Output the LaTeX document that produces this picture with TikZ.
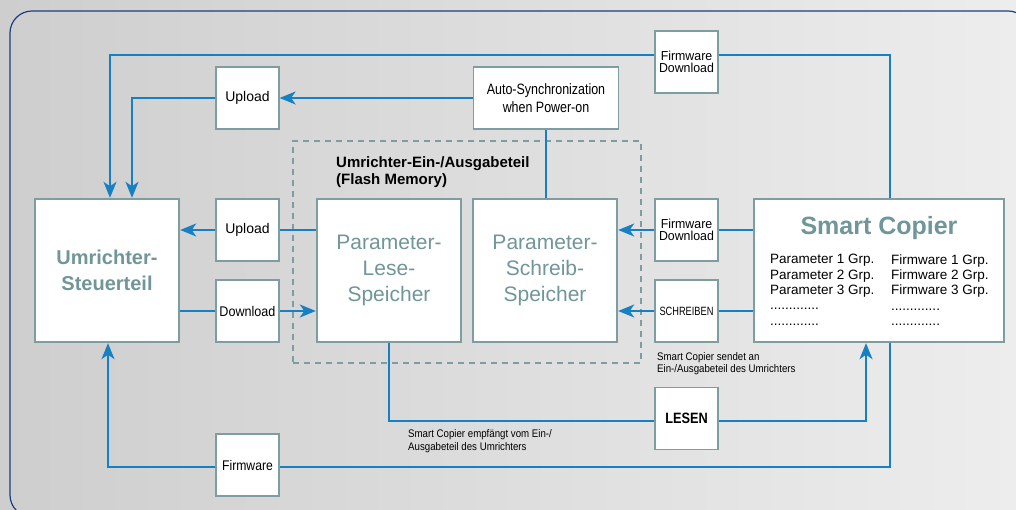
\documentclass[tikz,border=0pt]{standalone}
\usepackage{fontspec}
\setmainfont{Liberation Sans}
\usetikzlibrary{
  calc,
  positioning,
  arrows.meta
}
\definecolor{boxgray}{RGB}{125,157,160}
\definecolor{titlegray}{RGB}{112,150,153}
\definecolor{flowblue}{RGB}{22,128,194}
\definecolor{framenavy}{RGB}{28,62,128}
\definecolor{bgleft}{RGB}{206,206,206}
\definecolor{bgright}{RGB}{237,237,237}
\newcommand\cond[1]{\addfontfeatures{FakeStretch=#1}}

\begin{document}
\begin{tikzpicture}[x=1pt,y=-1pt,
  smallbox/.style={draw=boxgray, fill=white, line width=1.2pt, minimum width=63pt, minimum height=62pt, inner sep=0pt, align=center},
  bigbox/.style={draw=boxgray, fill=white, line width=2.4pt, minimum width=144pt, minimum height=143pt, inner sep=0pt, align=center, text=titlegray},
  flashbox/.style={draw=boxgray, line width=1.8pt, dash pattern=on 6pt off 5pt, inner sep=0pt},
  flow/.style={draw=flowblue, line width=1.8pt},
  note/.style={anchor=north west, inner sep=0pt, align=left, font=\fontsize{11}{12.6}\selectfont\cond{0.88}},
  grp/.style={anchor=north west, inner sep=0pt, align=left, font=\fontsize{13.5}{15.3}\selectfont},
  >={Stealth[length=16pt,width=13pt,inset=4.5pt]}]
\useasboundingbox (0,0) rectangle (1016,510);
\shade[left color=bgleft, right color=bgright] (0,0) rectangle (1016,510);
\draw[framenavy, line width=1.2pt, rounded corners=22pt] (10,11) rectangle (1030,517);

% flash memory part
\node[flashbox, minimum width=348pt, minimum height=222pt] (flash) at (467,252) {};
\node[anchor=north west, inner sep=0pt, align=left, font=\fontsize{15}{17}\selectfont\bfseries] (iolabel) at (336,156.2) {Umrichter-Ein-/Ausgabeteil\\(Flash Memory)};

% main blocks
\node[bigbox, font=\fontsize{20}{26}\selectfont\bfseries] (steuer) at (107,270.5) {Umrichter-\\Steuerteil};
\node[bigbox, font=\fontsize{21}{26}\selectfont] (lese) at (389,270.5) {Parameter-\\Lese-\\Speicher};
\node[bigbox, font=\fontsize{21}{26}\selectfont] (schreib) at (545,270.5) {Parameter-\\Schreib-\\Speicher};
\node[bigbox, minimum width=250pt] (copier) at (879,270.5) {};
\node[anchor=base, inner sep=0pt, text=titlegray, font=\fontsize{25}{30}\selectfont\bfseries] (ctitle) at (879,235) {Smart Copier};
\node[grp] (pgrp) at (770,254.3) {Parameter 1 Grp.\\Parameter 2 Grp.\\Parameter 3 Grp.\\.............\\.............};
\node[grp] (fgrp) at (891,254.3) {Firmware 1 Grp.\\Firmware 2 Grp.\\Firmware 3 Grp.\\.............\\.............};

% transfer boxes
\node[smallbox, font=\fontsize{14}{16}\selectfont] (uptop) at (247.5,98) {Upload};
\node[smallbox, font=\fontsize{14}{16}\selectfont] (upmid) at (247.5,230) {Upload};
\node[smallbox, font=\fontsize{14}{16}\selectfont\cond{0.9}] (down) at (247.5,311) {Download};
\node[smallbox, font=\fontsize{14}{16}\selectfont\cond{0.87}] (firm) at (247.5,465) {Firmware};
\node[smallbox, minimum width=145pt, font=\fontsize{15}{17.7}\selectfont\cond{0.83}] (sync) at (546,98) {Auto-Synchronization\\when Power-on};
\node[smallbox, font=\fontsize{13}{12.5}\selectfont\cond{0.95}] (fwtop) at (686.5,62) {Firmware\\Download};
\node[smallbox, font=\fontsize{13}{12.5}\selectfont\cond{0.95}] (fwmid) at (686.5,230) {Firmware\\Download};
\node[smallbox, font=\fontsize{12}{14}\selectfont\cond{0.77}] (schr) at (686.5,311) {SCHREIBEN};
\node[smallbox, font=\fontsize{15}{17}\selectfont\bfseries\cond{0.85}] (lesen) at (686.5,418.5) {LESEN};

% notes
\node[note] (sendnote) at (657,352) {Smart Copier sendet an\\Ein-/Ausgabeteil des Umrichters};
\node[note] (recvnote) at (408,429.5) {Smart Copier empfängt vom Ein-/\\Ausgabeteil des Umrichters};

% connections
\draw[flow] ([xshift=11pt]copier.north) |- ([yshift=7pt]fwtop.east);
\draw[flow,->] ([yshift=7pt]fwtop.west) -| ([xshift=3pt]steuer.north);
\draw[flow,->] (sync.west) -- (uptop.east);
\draw[flow,->] (uptop.west) -| ([xshift=25pt]steuer.north);
\draw[flow] (sync.south) -- (sync.south |- schreib.north);
\draw[flow] (lese.west |- upmid) -- (upmid.east);
\draw[flow,->] (upmid.west) -- (steuer.east |- upmid);
\draw[flow] (steuer.east |- down) -- (down.west);
\draw[flow,->] (down.east) -- (lese.west |- down);
\draw[flow] (copier.west |- fwmid) -- (fwmid.east);
\draw[flow,->] (fwmid.west) -- (schreib.east |- fwmid);
\draw[flow] (copier.west |- schr) -- (schr.east);
\draw[flow,->] (schr.west) -- (schreib.east |- schr);
\draw[flow] (lese.south) |- ([yshift=-2.5pt]lesen.west);
\draw[flow,->] ([yshift=-2.5pt]lesen.east) -| ([xshift=-13pt]copier.south);
\draw[flow] ([xshift=11pt]copier.south) |- ([yshift=-2pt]firm.east);
\draw[flow,->] ([yshift=-2pt]firm.west) -| ([xshift=1pt]steuer.south);
\end{tikzpicture}
\end{document}
